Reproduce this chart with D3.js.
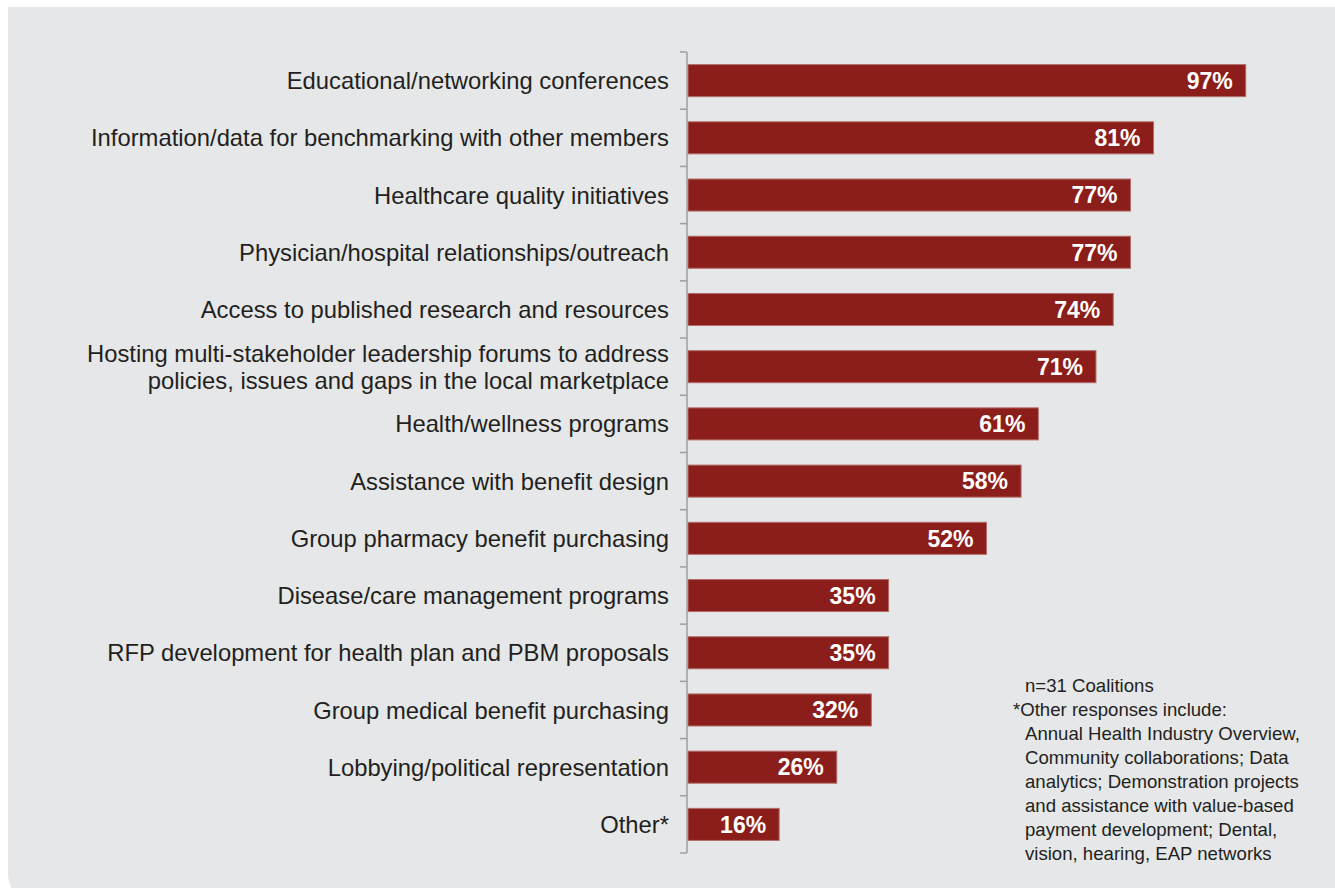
<!DOCTYPE html>
<html>
  <head>
    <meta charset="utf-8" />
    <title>Coalition services</title>
    <script src="https://d3js.org/d3.v7.min.js"></script>
    <style>
      body {
        margin: 0;
        background: #fff;
      }
      .cat {
        font-family: "Liberation Sans", Arial, sans-serif;
        font-size: 23.8px;
        fill: #231f20;
      }
      .val {
        font-family: "Liberation Sans", Arial, sans-serif;
        font-size: 23px;
        font-weight: bold;
        fill: #fff;
      }
      .note {
        font-family: "Liberation Sans", Arial, sans-serif;
        font-size: 18.6px;
        fill: #231f20;
      }
    </style>
  </head>
  <body>
    <svg id="chart" width="1335" height="888"></svg>
    <script>
      // values
      const categories = [
        ["Educational/networking conferences"],
        ["Information/data for benchmarking with other members"],
        ["Healthcare quality initiatives"],
        ["Physician/hospital relationships/outreach"],
        ["Access to published research and resources"],
        ["Hosting multi-stakeholder leadership forums to address", "policies, issues and gaps in the local marketplace"],
        ["Health/wellness programs"],
        ["Assistance with benefit design"],
        ["Group pharmacy benefit purchasing"],
        ["Disease/care management programs"],
        ["RFP development for health plan and PBM proposals"],
        ["Group medical benefit purchasing"],
        ["Lobbying/political representation"],
        ["Other*"]
      ];
      const values = [97, 81, 77, 77, 74, 71, 61, 58, 52, 35, 35, 32, 26, 16];
      const noteLines = [
        "n=31 Coalitions",
        "*Other responses include:",
        "Annual Health Industry Overview,",
        "Community collaborations; Data",
        "analytics; Demonstration projects",
        "and assistance with value-based",
        "payment development; Dental,",
        "vision, hearing, EAP networks"
      ];

      const svg = d3.select("#chart");

      // grey panel, rounded only at bottom-left
      svg
        .append("path")
        .attr("d", "M8,7 H1340 V895 H24 Q8,895 8,871 Z")
        .attr("fill", "#e6e7e8");

      const x = d3.scaleLinear().domain([0, 100]).range([687, 1263]);
      const y = d3
        .scaleBand()
        .domain(d3.range(values.length))
        .range([52, 853])
        .paddingInner(0.44)
        .paddingOuter(0.22);

      const chart = svg.append("g");

      chart
        .selectAll("rect.bar")
        .data(values)
        .join("rect")
        .attr("class", "bar")
        .attr("x", x(0) + 1)
        .attr("y", (d, i) => y(i))
        .attr("width", (d) => x(d) - x(0) - 1)
        .attr("height", y.bandwidth())
        .attr("fill", "#8b1e1a")
        .attr("stroke", "#b26e6a")
        .attr("stroke-width", 1);

      chart
        .selectAll("text.val")
        .data(values)
        .join("text")
        .attr("class", "val")
        .attr("x", (d) => x(d) - 13)
        .attr("y", (d, i) => y(i) + y.bandwidth() / 2)
        .attr("dy", "0.36em")
        .attr("text-anchor", "end")
        .text((d) => d + "%");

      // axis with ticks between the bands
      const axis = chart.append("g").attr("stroke", "#9d9fa2").attr("stroke-width", 1.5);
      axis
        .append("line")
        .attr("x1", x(0))
        .attr("x2", x(0))
        .attr("y1", y.range()[0])
        .attr("y2", y.range()[1]);
      const tickYs = d3.range(values.length + 1).map((i) => y.range()[0] + i * y.step());
      axis
        .selectAll("line.tick")
        .data(tickYs)
        .join("line")
        .attr("class", "tick")
        .attr("x1", x(0) - 7)
        .attr("x2", x(0))
        .attr("y1", (d) => d)
        .attr("y2", (d) => d);

      const labels = chart
        .selectAll("text.cat")
        .data(categories)
        .join("text")
        .attr("class", "cat")
        .attr("text-anchor", "end")
        .attr("y", (d, i) => y(i) + y.bandwidth() / 2 - (d.length - 1) * 13.5);
      labels
        .selectAll("tspan")
        .data((d) => d)
        .join("tspan")
        .attr("x", 669)
        .attr("dy", (d, j) => (j === 0 ? "0.36em" : "27"))
        .text((d) => d);

      svg
        .append("g")
        .selectAll("text.note")
        .data(noteLines)
        .join("text")
        .attr("class", "note")
        .attr("x", (d, i) => (i === 1 ? 1013 : 1025))
        .attr("y", (d, i) => 692 + i * 24)
        .text((d) => d);
    </script>
  </body>
</html>
